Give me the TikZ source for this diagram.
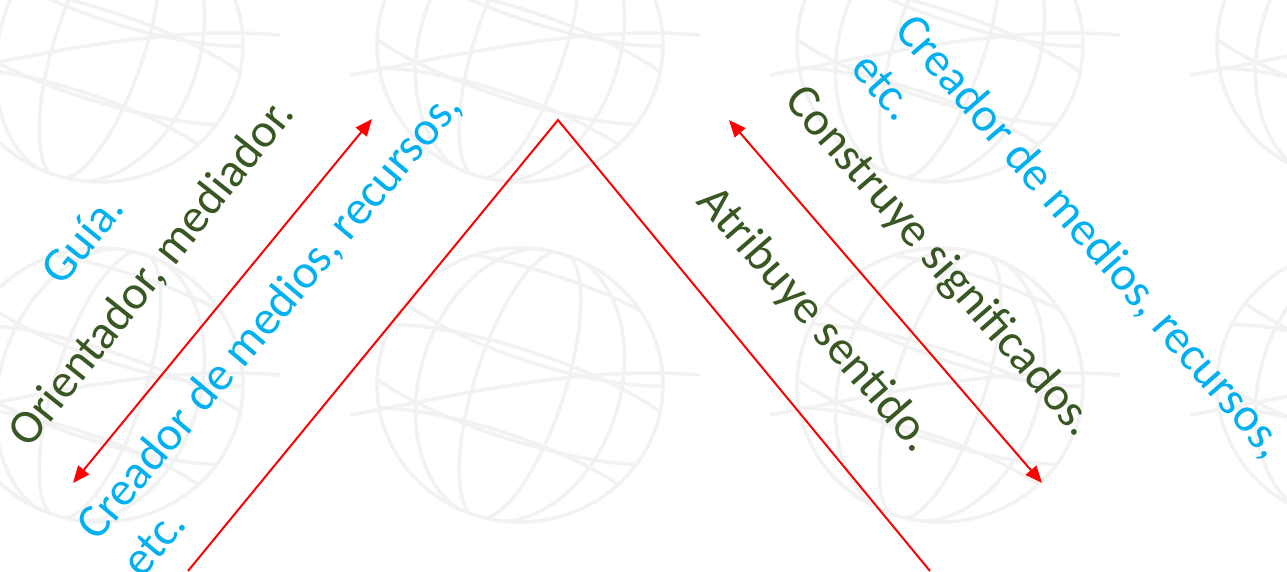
\documentclass[tikz,border=0pt]{standalone}
\usepackage{fontspec}
\setmainfont{Carlito}
\usetikzlibrary{arrows.meta}
\definecolor{cblue}{HTML}{00B0F0}
\definecolor{cgreen}{HTML}{385723}
\definecolor{cred}{HTML}{FF0000}
\definecolor{wm}{HTML}{F2F2F2}
\tikzset{
  lbl/.style={font=\fontsize{48}{58}\selectfont, inner sep=0pt, align=left},
  bluetxt/.style={lbl, text=cblue},
  greentxt/.style={lbl, text=cgreen},
  vline/.style={draw=cred, line width=2pt},
  arr/.style={draw=cred, line width=2pt, {Triangle[length=17pt,width=14pt]}-{Triangle[length=17pt,width=14pt]}},
  wmline/.style={draw=wm, line width=3.5pt},
  globe/.pic={
    \draw[wmline] (0,0) ellipse (143 and 137);
    \begin{scope}
      \clip (0,0) ellipse (143 and 137);
      \draw[wmline, rotate=-18] (0,0) ellipse (45 and 140);
      \draw[wmline, rotate=-18] (0,0) ellipse (100 and 140);
      \draw[wmline, rotate=-18] (0,-70) ellipse (170 and 45);
      \draw[wmline, rotate=-18] (0,10) ellipse (180 and 45);
      \draw[wmline, rotate=-18] (0,95) ellipse (170 and 45);
    \end{scope}
    \draw[wmline] (-170,30) .. controls (-60,10) and (60,-20) .. (180,-10);
  }
}
\begin{document}
\begin{tikzpicture}[x=1pt,y=-1pt]
\useasboundingbox[fill=white] (0,0) rectangle (1287,571);
% watermark
\begin{scope}
  \clip (0,0) rectangle (1287,571);
  \foreach \cx in {100,520,940,1360}{
    \foreach \cy in {45,385}{
      \pic at (\cx,\cy) {globe};
    }
  }
\end{scope}
% red V
\coordinate (vl) at (188,571);
\coordinate (vt) at (558,120);
\coordinate (vr) at (930,571);
\draw[vline] (vl) -- (vt) -- (vr);
% arrows
\coordinate (la) at (73,483);
\coordinate (lb) at (372,119);
\coordinate (ra) at (729,120);
\coordinate (rb) at (1042,483);
\draw[arr] (la) -- (lb);
\draw[arr] (ra) -- (rb);
% left texts
\node[bluetxt, rotate=51] (guia) at (82,238) {Guía.};
\node[greentxt, rotate=51.5] (orient) at (152,273) {Orientador, mediador.};
\node[bluetxt, rotate=50] (creaL) at (290,333) {Creador de medios, recursos,\\etc.};
% right texts
\node[greentxt, rotate=-49] (atrib) at (815,320) {Atribuye sentido.};
\node[greentxt, rotate=-49] (constr) at (939,262) {Construye significados.};
\node[bluetxt, rotate=-49] (creaR) at (1070,254) {Creador de medios, recursos,\\etc.};
\end{tikzpicture}
\end{document}
